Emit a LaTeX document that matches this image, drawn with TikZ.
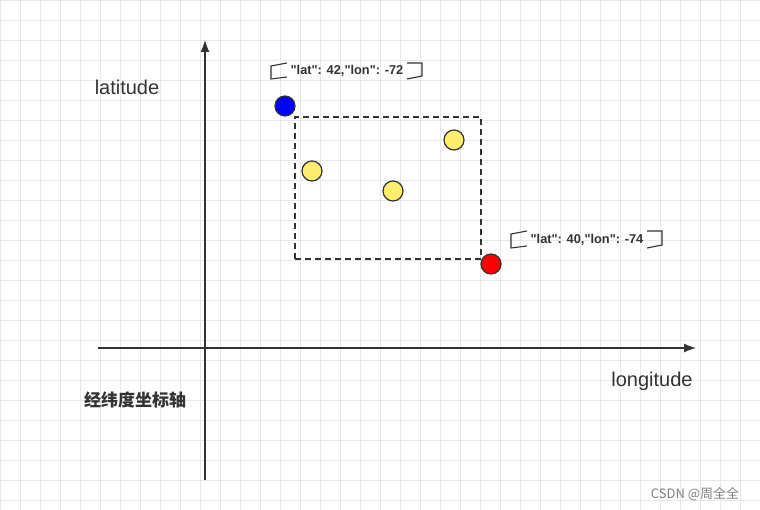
\documentclass[tikz,border=0pt]{standalone}
\usepackage{fontspec}
\setmainfont{Liberation Sans}
\newfontfamily\labf{Liberation Sans}
\newfontfamily\cjk{Noto Sans CJK SC}
\usetikzlibrary{arrows.meta}
\definecolor{gridc}{HTML}{E8E8E8}
\definecolor{ink}{HTML}{333333}
\definecolor{yel}{HTML}{FFEE6E}
\tikzset{
  pt/.style={circle,draw=ink,line width=1.2pt,minimum size=20pt,inner sep=0pt},
  axis/.style={draw=ink,line width=1.2pt,-{Latex[length=12pt,width=9pt]}},
  lbl/.style={font=\labf\bfseries\fontsize{12.8}{14}\selectfont,text=ink},
  brk/.style={draw=ink,line width=1.1pt}
}
\begin{document}
\begin{tikzpicture}[x=1pt,y=-1pt]
\useasboundingbox (0,0) rectangle (760,510);
\fill[white] (0,0) rectangle (760,510);
\draw[gridc,line width=0.6pt,step=20pt] (0,0) grid (760,510);
% axes
\coordinate (yb) at (205,480); \coordinate (yt) at (205,40);
\coordinate (xl) at (98,348); \coordinate (xr) at (696,348);
\draw[axis] (yb) -- (yt);
\draw[axis] (xl) -- (xr);
% box
\node[draw=ink,dash pattern=on 6pt off 4pt,line width=1.2pt,minimum width=186pt,minimum height=142pt,inner sep=0pt] (box) at (388,188) {};
\node[pt,fill=blue] (b) at (285,106) {};
\node[pt,fill=red] (r) at (491,264) {};
\node[pt,fill=yel] (y1) at (312,171) {};
\node[pt,fill=yel] (y2) at (393,191) {};
\node[pt,fill=yel] (y3) at (454,140) {};
% labels
\node[lbl] (l1) at (347,71) {"lat": 42,"lon": -72};
\draw[brk] (287,63) -- (271,66) -- (271,79) -- (287,77);
\draw[brk] (407,63) -- (422,63) -- (422,76) -- (407,79);
\node[lbl] (l2) at (587,240) {"lat": 40,"lon": -74};
\draw[brk] (527,231) -- (511,234) -- (511,248) -- (527,246);
\draw[brk] (647,231) -- (662,231) -- (662,245) -- (647,248);
\node[text=ink,font=\fontsize{20}{22}\selectfont] (lat) at (127,87) {latitude};
\node[text=ink,font=\fontsize{20}{22}\selectfont] (lon) at (652,381) {longitude};
\node[text=ink,font=\cjk\bfseries\fontsize{17}{19}\selectfont] (zh) at (135,400) {经纬度坐标轴};
\node[text=gray,font=\cjk\fontsize{13}{15}\selectfont] (wm) at (695,494) {CSDN @周全全};
\end{tikzpicture}
\end{document}
